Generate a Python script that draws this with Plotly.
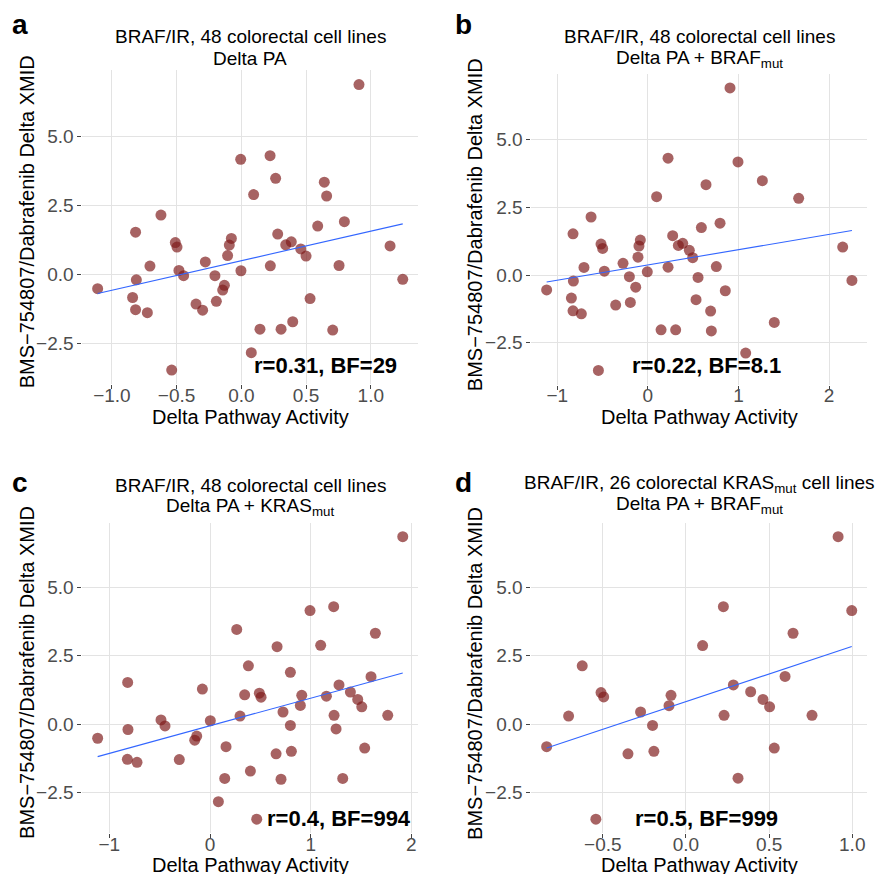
import numpy as np
import plotly.graph_objects as go

# ---------------- data ----------------
# Panel a: Delta PA
a_x = [0.909, -0.005, 0.222, 0.265, 0.641, 0.659, 0.095, -0.621, -0.817, 0.796, 0.590, 0.281,
       -0.510, -0.497, -0.077, -0.093, -0.106, 0.343, 0.386, 0.459, 0.500, 1.149, -0.706, -0.278,
       0.224, 0.755, -0.003, -0.482, -0.446, -0.204, -0.811, 1.247, -1.110, -0.131, -0.144, -0.840,
       0.531, -0.350, -0.193, -0.299, -0.817, -0.726, 0.144, 0.307, 0.397, 0.706, 0.077, -0.538]
a_y = [6.87, 4.16, 4.29, 3.47, 3.33, 2.83, 2.88, 2.14, 1.52, 1.90, 1.74, 1.45,
       1.14, 0.98, 1.29, 1.05, 0.67, 1.06, 1.17, 0.91, 0.65, 1.02, 0.29, 0.44,
       0.30, 0.31, 0.12, 0.13, -0.06, -0.06, -0.21, -0.19, -0.53, -0.41, -0.58, -0.85,
       -0.89, -1.09, -0.99, -1.31, -1.29, -1.40, -2.00, -2.00, -1.73, -2.03, -2.85, -3.48]

# Panel b: Delta PA + BRAFmut
b_x = [0.907, 0.223, 0.995, 1.264, 0.642, 1.665, 0.097, -0.627, -0.826, 0.797, 0.591, 0.274,
       -0.517, -0.499, -0.083, -0.098, -0.109, 0.337, 0.385, 0.458, 0.495, 2.151, -0.705, -0.274,
       0.223, 0.756, -0.006, -0.480, -0.204, 0.554, -0.822, 2.253, -1.117, -0.134, -0.844, 0.855,
       0.532, -0.355, -0.193, -0.826, -0.734, 0.693, 0.146, 0.307, 0.701, 1.396, 1.080, -0.546]
b_y = [6.90, 4.31, 4.17, 3.48, 3.33, 2.83, 2.89, 2.14, 1.52, 1.91, 1.75, 1.45,
       1.14, 0.98, 1.29, 1.07, 0.66, 1.09, 1.17, 0.91, 0.64, 1.03, 0.28, 0.43,
       0.29, 0.31, 0.12, 0.14, -0.06, -0.09, -0.22, -0.20, -0.55, -0.45, -0.85, -0.58,
       -0.91, -1.11, -1.01, -1.32, -1.43, -1.33, -2.02, -2.02, -2.06, -1.75, -2.88, -3.52]

# Panel c: Delta PA + KRASmut
c_x = [1.914, 0.993, 1.228, 1.642, 0.265, 1.099, 0.666, 0.381, -0.818, 0.798, 1.599, 1.281,
       -0.076, 0.344, 0.490, 0.507, 0.911, 1.156, 1.394, 1.467, 1.507, 0.897, 0.725, 0.298,
       1.232, 1.765, 0.003, -0.487, -0.447, 0.798, -0.815, 1.252, -1.116, -0.132, -0.152, 0.159,
       1.536, 0.656, 0.808, -0.305, -0.821, -0.725, 0.146, 0.705, 0.401, 1.318, 0.083, 0.464]
c_y = [6.85, 4.15, 4.29, 3.32, 3.46, 2.88, 2.83, 2.13, 1.52, 1.89, 1.73, 1.43,
       1.28, 1.07, 1.13, 0.98, 1.05, 1.02, 1.17, 0.90, 0.63, 0.68, 0.44, 0.29,
       0.32, 0.32, 0.12, 0.15, -0.07, -0.05, -0.20, -0.18, -0.52, -0.44, -0.59, -0.83,
       -0.88, -1.09, -1.00, -1.30, -1.29, -1.40, -1.99, -2.02, -1.72, -1.99, -2.84, -3.48]

# Panel d: 26 KRASmut lines, Delta PA + BRAFmut
d_x = [0.915, 0.225, 0.997, 0.644, 0.100, -0.624, 0.596, 0.285, -0.511, -0.495, -0.090, -0.102,
       0.389, 0.463, 0.503, -0.706, -0.273, 0.229, 0.758, -0.201, -0.838, 0.531, -0.349, -0.193,
       0.313, -0.542]
d_y = [6.85, 4.29, 4.15, 3.32, 2.87, 2.13, 1.74, 1.43, 1.15, 0.99, 1.05, 0.67,
       1.18, 0.90, 0.63, 0.29, 0.44, 0.32, 0.32, -0.05, -0.83, -0.88, -1.09, -1.00,
       -1.98, -3.48]

panel_letters = ["a", "b", "c", "d"]
title_line1 = ["BRAF/IR, 48 colorectal cell lines", "BRAF/IR, 48 colorectal cell lines",
               "BRAF/IR, 48 colorectal cell lines",
               "BRAF/IR, 26 colorectal KRAS<sub>mut</sub> cell lines"]
title_line2 = ["Delta PA", "Delta PA + BRAF<sub>mut</sub>", "Delta PA + KRAS<sub>mut</sub>",
               "Delta PA + BRAF<sub>mut</sub>"]
stats_text = ["r=0.31, BF=29", "r=0.22, BF=8.1", "r=0.4, BF=994", "r=0.5, BF=999"]
x_title = "Delta Pathway Activity"
y_title = "BMS\u2212754807/Dabrafenib Delta XMID"

x_tickvals = [[-1.0, -0.5, 0.0, 0.5, 1.0], [-1, 0, 1, 2], [-1, 0, 1, 2], [-0.5, 0.0, 0.5, 1.0]]
x_ticktext = [["\u22121.0", "\u22120.5", "0.0", "0.5", "1.0"], ["\u22121", "0", "1", "2"],
              ["\u22121", "0", "1", "2"], ["\u22120.5", "0.0", "0.5", "1.0"]]
y_tickvals = [-2.5, 0.0, 2.5, 5.0]
y_ticktext = ["\u22122.5", "0.0", "2.5", "5.0"]

# ---------------- layout geometry (pixels) ----------------
W, H = 875, 874
# (left, right, top, bottom) of each panel
boxes = [(82.4, 418.0, 70.3, 384.3), (531.4, 867.2, 73.8, 384.6),
         (82.4, 418.0, 522.6, 833.3), (531.4, 867.0, 522.6, 833.3)]
title_y = [(36.5, 58.5), (36.5, 58.5), (485, 507), (484, 505)]
stats_pos = [(325, 365), (706, 365), (338.6, 818), (706.7, 818)]
letter_pos = [(20, 24), (464, 24), (20, 482), (464, 482)]
ytitle_x = [27, 475, 27, 475]
xtitle_gap = [32.5, 32.5, 31.5, 31.5]

FONT = "Liberation Sans, Arial, Helvetica, sans-serif"
PT_COLOR = "rgba(125,25,25,0.68)"

def px(x):
    return x / W

def py(y):
    return 1 - y / H

xs = [a_x, b_x, c_x, d_x]
ys = [a_y, b_y, c_y, d_y]

fig = go.Figure()
annotations = []
for i in range(4):
    x = np.array(xs[i])
    y = np.array(ys[i])
    xa = "x" if i == 0 else f"x{i+1}"
    ya = "y" if i == 0 else f"y{i+1}"
    fig.add_trace(go.Scatter(x=x, y=y, mode="markers", xaxis=xa, yaxis=ya,
                             marker=dict(size=11, color=PT_COLOR, line=dict(width=0)),
                             showlegend=False, hoverinfo="x+y"))
    slope, intercept = np.polyfit(x, y, 1)
    lx = np.array([x.min(), x.max()])
    fig.add_trace(go.Scatter(x=lx, y=slope * lx + intercept, mode="lines", xaxis=xa, yaxis=ya,
                             line=dict(color="#3366FF", width=1.1), showlegend=False,
                             hoverinfo="skip"))
    l, r, t, b = boxes[i]
    xr = x.max() - x.min()
    yr = y.max() - y.min()
    axis_common = dict(showline=False, zeroline=False, showgrid=True, gridcolor="#E3E3E3",
                       gridwidth=1, ticks="outside", ticklen=4, tickwidth=1,
                       tickcolor="#444444",
                       tickfont=dict(family=FONT, size=19, color="#4D4D4D"))
    fig.layout[("xaxis" if i == 0 else f"xaxis{i+1}")] = dict(
        domain=[px(l), px(r)], anchor=ya,
        range=[x.min() - 0.05 * xr, x.max() + 0.05 * xr], ticklabelstandoff=-10,
        tickmode="array", tickvals=x_tickvals[i], ticktext=x_ticktext[i], **axis_common)
    fig.layout[("yaxis" if i == 0 else f"yaxis{i+1}")] = dict(
        domain=[py(b), py(t)], anchor=xa,
        range=[y.min() - 0.05 * yr, y.max() + 0.05 * yr],
        tickmode="array", tickvals=y_tickvals, ticktext=y_ticktext, **axis_common)

    cx = (l + r) / 2
    annotations += [
        dict(text=title_line1[i], x=px(cx), y=py(title_y[i][0]), xref="paper", yref="paper",
             xanchor="center", yanchor="middle", showarrow=False,
             font=dict(family=FONT, size=19, color="#000000")),
        dict(text=title_line2[i], x=px(cx), y=py(title_y[i][1]), xref="paper", yref="paper",
             xanchor="center", yanchor="middle", showarrow=False,
             font=dict(family=FONT, size=19, color="#000000")),
        dict(text="<b>" + stats_text[i] + "</b>", x=px(stats_pos[i][0]), y=py(stats_pos[i][1]),
             xref="paper", yref="paper", xanchor="center", yanchor="middle", showarrow=False,
             font=dict(family=FONT, size=22, color="#000000")),
        dict(text="<b>" + panel_letters[i] + "</b>", x=px(letter_pos[i][0]),
             y=py(letter_pos[i][1]), xref="paper", yref="paper", xanchor="center",
             yanchor="middle", showarrow=False, font=dict(family=FONT, size=28, color="#000000")),
        dict(text=x_title, x=px(cx), y=py(b + xtitle_gap[i]), xref="paper", yref="paper",
             xanchor="center", yanchor="middle", showarrow=False,
             font=dict(family=FONT, size=20, color="#000000")),
        dict(text=y_title, x=px(ytitle_x[i]), y=py((t + b) / 2 - 5), xref="paper", yref="paper",
             xanchor="center", yanchor="middle", textangle=-90, showarrow=False,
             font=dict(family=FONT, size=20, color="#000000")),
    ]

fig.update_layout(width=W, height=H, margin=dict(l=0, r=0, t=0, b=0),
                  paper_bgcolor="white", plot_bgcolor="white",
                  annotations=annotations, font=dict(family=FONT))
fig.write_html("out.html", config={"displayModeBar": False},
               post_script="document.body.style.margin='0';document.body.style.padding='0';")
